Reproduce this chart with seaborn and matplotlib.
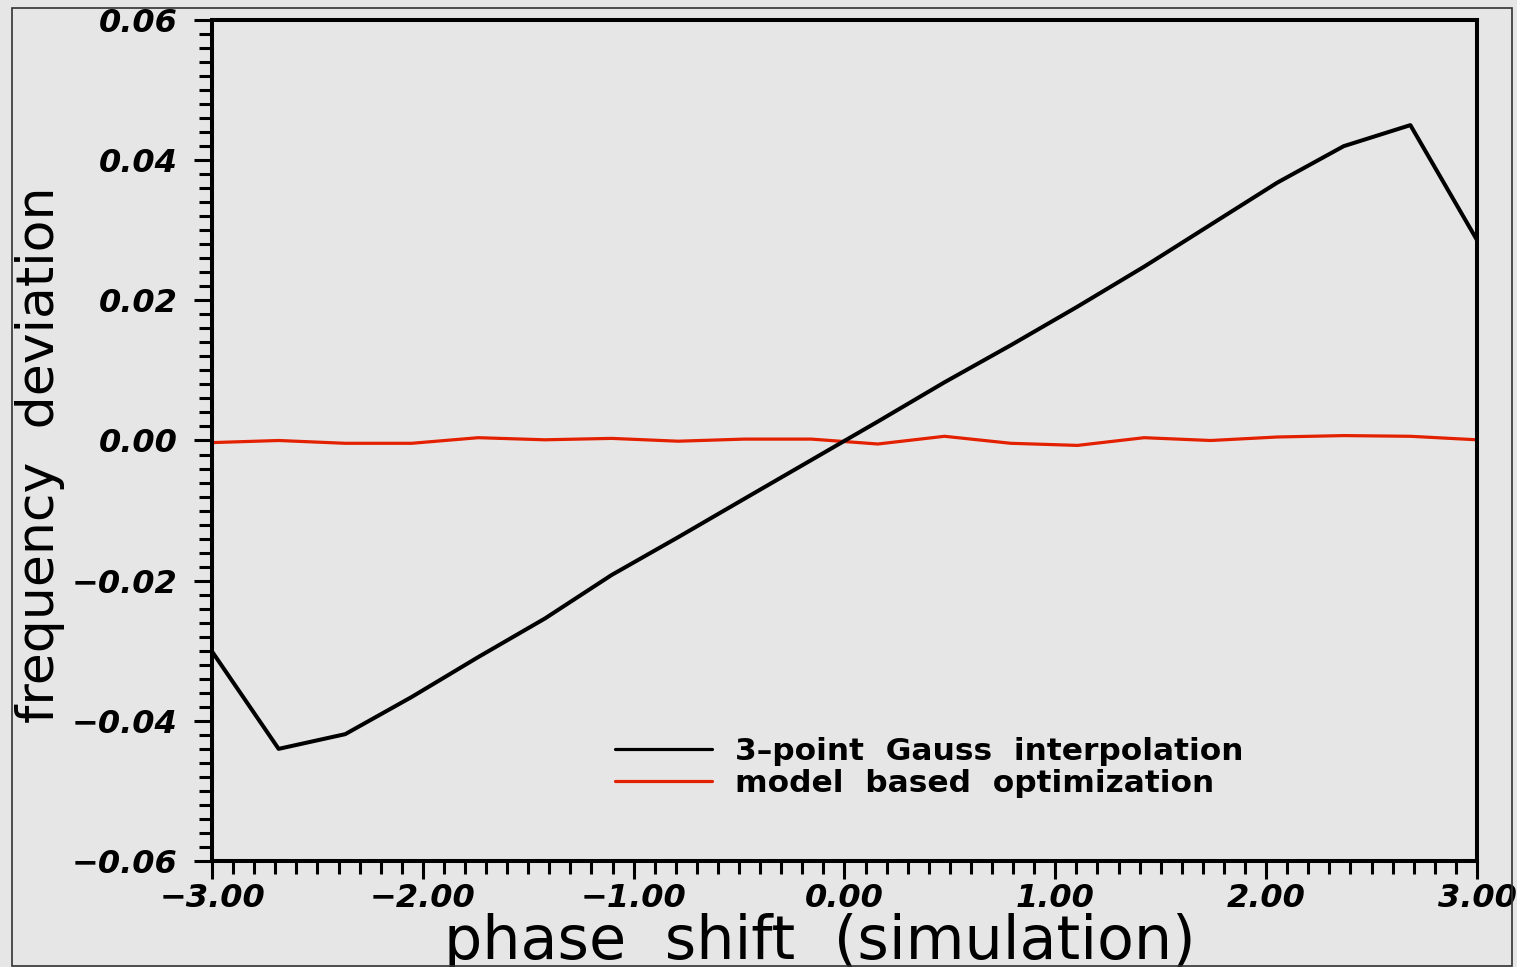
import pandas as pd
import matplotlib
matplotlib.use("Agg")
import matplotlib.pyplot as plt
import matplotlib.ticker as mticker
from matplotlib.patches import Rectangle
import seaborn as sns

# phase shift values (x) and frequency deviation for both methods
phase = [-3.0, -2.684, -2.368, -2.053, -1.737, -1.421, -1.105, -0.789, -0.474, -0.158,
         0.158, 0.474, 0.789, 1.105, 1.421, 1.737, 2.053, 2.368, 2.684, 3.0]
gauss = [-0.0301, -0.0440, -0.0419, -0.0366, -0.0309, -0.0254, -0.0192, -0.0138, -0.0083, -0.0028,
         0.0027, 0.0083, 0.0136, 0.0191, 0.0248, 0.0308, 0.0368, 0.0420, 0.0450, 0.0286]
model = [-0.0003, 0.0000, -0.0004, -0.0004, 0.0004, 0.0001, 0.0003, -0.0001, 0.0002, 0.0002,
         -0.0005, 0.0006, -0.0004, -0.0007, 0.0004, 0.0000, 0.0005, 0.0007, 0.0006, 0.0001]
labels = ["3\u2013point  Gauss  interpolation", "model  based  optimization"]
colors = ["#000000", "#e32000"]

x_ticks = [-3, -2, -1, 0, 1, 2, 3]
y_ticks = [-0.06, -0.04, -0.02, 0.0, 0.02, 0.04, 0.06]

df = pd.concat([
    pd.DataFrame({"phase": phase, "dev": gauss, "method": labels[0]}),
    pd.DataFrame({"phase": phase, "dev": model, "method": labels[1]}),
])

sns.set_theme(style="ticks")
plt.rcParams["font.family"] = ["DejaVu Sans"]
plt.rcParams["text.color"] = "black"
plt.rcParams["axes.labelcolor"] = "black"
plt.rcParams["xtick.color"] = "black"
plt.rcParams["ytick.color"] = "black"
bg = "#e6e6e6"

fig = plt.figure(figsize=(15.17, 9.67), dpi=100, facecolor=bg)
ax = fig.add_axes([0.13975, 0.10962, 0.83388, 0.86970])
ax.set_facecolor(bg)

sns.lineplot(data=df, x="phase", y="dev", hue="method", palette=colors,
             estimator=None, sort=False, ax=ax)
for line, lw in zip(ax.lines, [2.9, 2.3]):
    line.set_linewidth(lw)
ax.lines[0].set_zorder(3)

ax.set_xlim(-3, 3)
ax.set_ylim(-0.06, 0.06)
ax.set_xticks(x_ticks)
ax.set_yticks(y_ticks)
ax.xaxis.set_minor_locator(mticker.MultipleLocator(0.1))
ax.yaxis.set_minor_locator(mticker.MultipleLocator(0.002))
fmt = mticker.FuncFormatter(lambda v, p: ("%.2f" % v).replace("-", "\u2212"))
ax.xaxis.set_major_formatter(fmt)
ax.yaxis.set_major_formatter(fmt)

for s in ax.spines.values():
    s.set_linewidth(2.9)
    s.set_color("black")
ax.tick_params(which="major", direction="out", length=13, width=2.2, color="black")
ax.tick_params(which="minor", direction="out", length=9.5, width=2.2, color="black")
ax.tick_params(axis="y", which="major", pad=12)
ax.tick_params(axis="x", which="major", pad=3)
ax.tick_params(top=False, right=False, which="both")
for lab in ax.get_xticklabels() + ax.get_yticklabels():
    lab.set_fontsize(23)
    lab.set_fontweight("bold")
    lab.set_fontstyle("italic")
    lab.set_color("black")

ax.set_xlabel("phase  shift  (simulation)", fontsize=43.5, color="black")
ax.set_ylabel("frequency  deviation", fontsize=37.5, color="black")
ax.xaxis.set_label_coords(0.4806, -0.062)
ax.yaxis.set_label_coords(-0.116, 0.483)

leg = ax.legend(loc="upper left", bbox_to_anchor=(0.3186, 0.148), frameon=False,
                borderaxespad=0, borderpad=0, handlelength=3.1, handletextpad=0.75,
                labelspacing=0.12, prop={"size": 22.5, "weight": "bold"})
for h in leg.get_lines():
    h.set_linewidth(2.3)
for t in leg.get_texts():
    t.set_color("black")

fig.patches.append(Rectangle((12 / 1517, 1 / 967), 1500 / 1517, 958 / 967,
                             transform=fig.transFigure, fill=False,
                             edgecolor="#333333", linewidth=1.2))

fig.savefig("out.png", dpi=100, facecolor=bg)
